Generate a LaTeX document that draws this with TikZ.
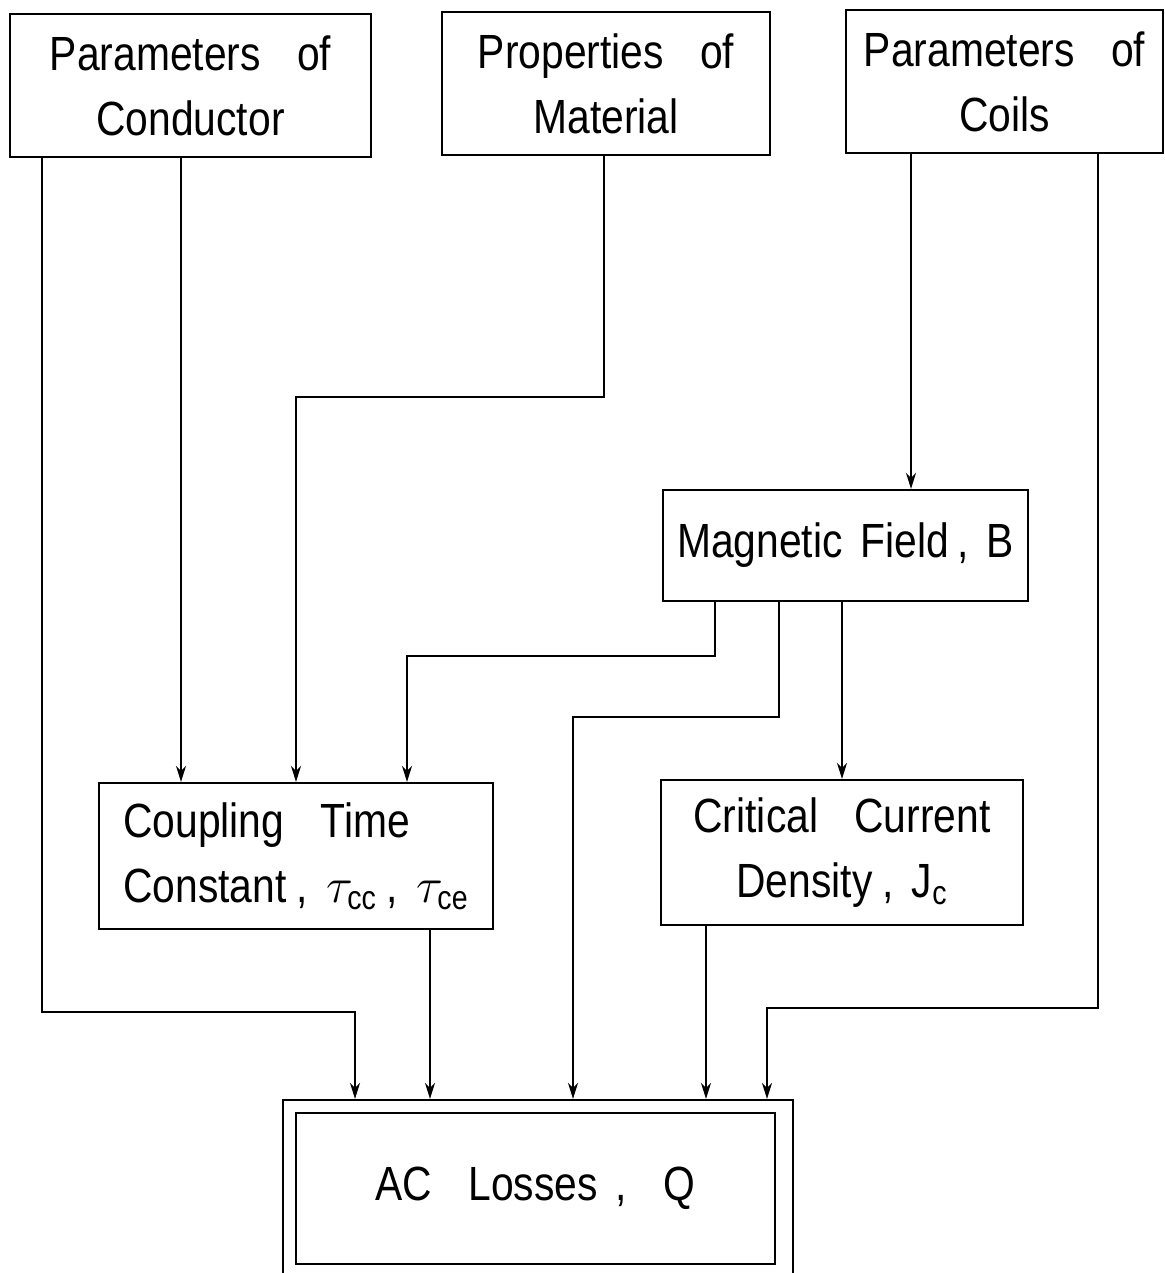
\documentclass[tikz,border=0pt]{standalone}
\usepackage{fontspec}
\usepackage{amsmath}
\setmainfont{Liberation Sans}[FakeStretch=0.85, WordSpace=1.6]
\usetikzlibrary{arrows.meta}

\begin{document}
\begin{tikzpicture}[
    x=0.5pt, y=-0.5pt,
    box/.style={draw, line width=1.1pt, align=center, inner sep=0pt, font=\fontsize{24}{32.5}\selectfont},
    arrow/.style={-{Stealth[length=8pt, width=5pt, inset=2.5pt]}, line width=1pt}
]
\useasboundingbox (0,0) rectangle (1164,1273);

% Inputs
\node[box, minimum width=180.5pt, minimum height=71.5pt] (cond) at (190.5,85.5)
  {Parameters\ \ of\\Conductor};
\node[box, minimum width=164pt, minimum height=71.5pt] (mat) at (606,83.5)
  {Properties\ \ of\\Material};
\node[box, minimum width=158.5pt, minimum height=71.5pt] (coil) at (1004.5,81.5)
  {Parameters\ \ of\\Coils};

% Intermediate quantities
\node[box, minimum width=182.5pt, minimum height=55.5pt] (field) at (845.5,545.5)
  {Magnetic Field\hspace{4pt}, B};
\node[box, align=left, minimum width=197pt, minimum height=73pt] (coup) at (296,856)
  {Coupling\ \ Time\\Constant\hspace{5pt}, $\tau_{\text{cc}}$\hspace{5pt}, $\tau_{\text{ce}}$};
\node[box, minimum width=181pt, minimum height=72.5pt] (crit) at (842,852.5)
  {Critical\ \ Current\\Density\hspace{5pt}, $\text{J}_{\text{c}}$};

% Result
\node[box, minimum width=255pt, minimum height=88.5pt] (lossframe) at (538,1188.5) {};
\node[box, minimum width=239.5pt, minimum height=75.5pt] (loss) at (535.5,1188.5)
  {AC\ \ Losses , \ Q};

% Turning points
\coordinate (c1) at (42,1012);
\coordinate (c2) at (355,1012);
\coordinate (c3) at (181,0);
\coordinate (m1) at (604,397);
\coordinate (m2) at (296,397);
\coordinate (k1) at (911,0);
\coordinate (k2) at (1098,1008);
\coordinate (k3) at (767,1008);
\coordinate (f1) at (715,656);
\coordinate (f2) at (407,656);
\coordinate (f3) at (779,717);
\coordinate (f4) at (573,717);
\coordinate (f5) at (842,0);
\coordinate (q1) at (430,0);
\coordinate (q2) at (706,0);

% Arrows
\draw[arrow] (cond.south -| c1) |- (c2) -- (c2 |- lossframe.north);
\draw[arrow] (cond.south -| c3) -- (c3 |- coup.north);
\draw[arrow] (mat.south -| m1) |- (m2) -- (m2 |- coup.north);
\draw[arrow] (coil.south -| k1) -- (k1 |- field.north);
\draw[arrow] (coil.south -| k2) |- (k3) -- (k3 |- lossframe.north);
\draw[arrow] (field.south -| f1) |- (f2) -- (f2 |- coup.north);
\draw[arrow] (field.south -| f3) |- (f4) -- (f4 |- lossframe.north);
\draw[arrow] (field.south -| f5) -- (f5 |- crit.north);
\draw[arrow] (coup.south -| q1) -- (q1 |- lossframe.north);
\draw[arrow] (crit.south -| q2) -- (q2 |- lossframe.north);

\end{tikzpicture}
\end{document}
